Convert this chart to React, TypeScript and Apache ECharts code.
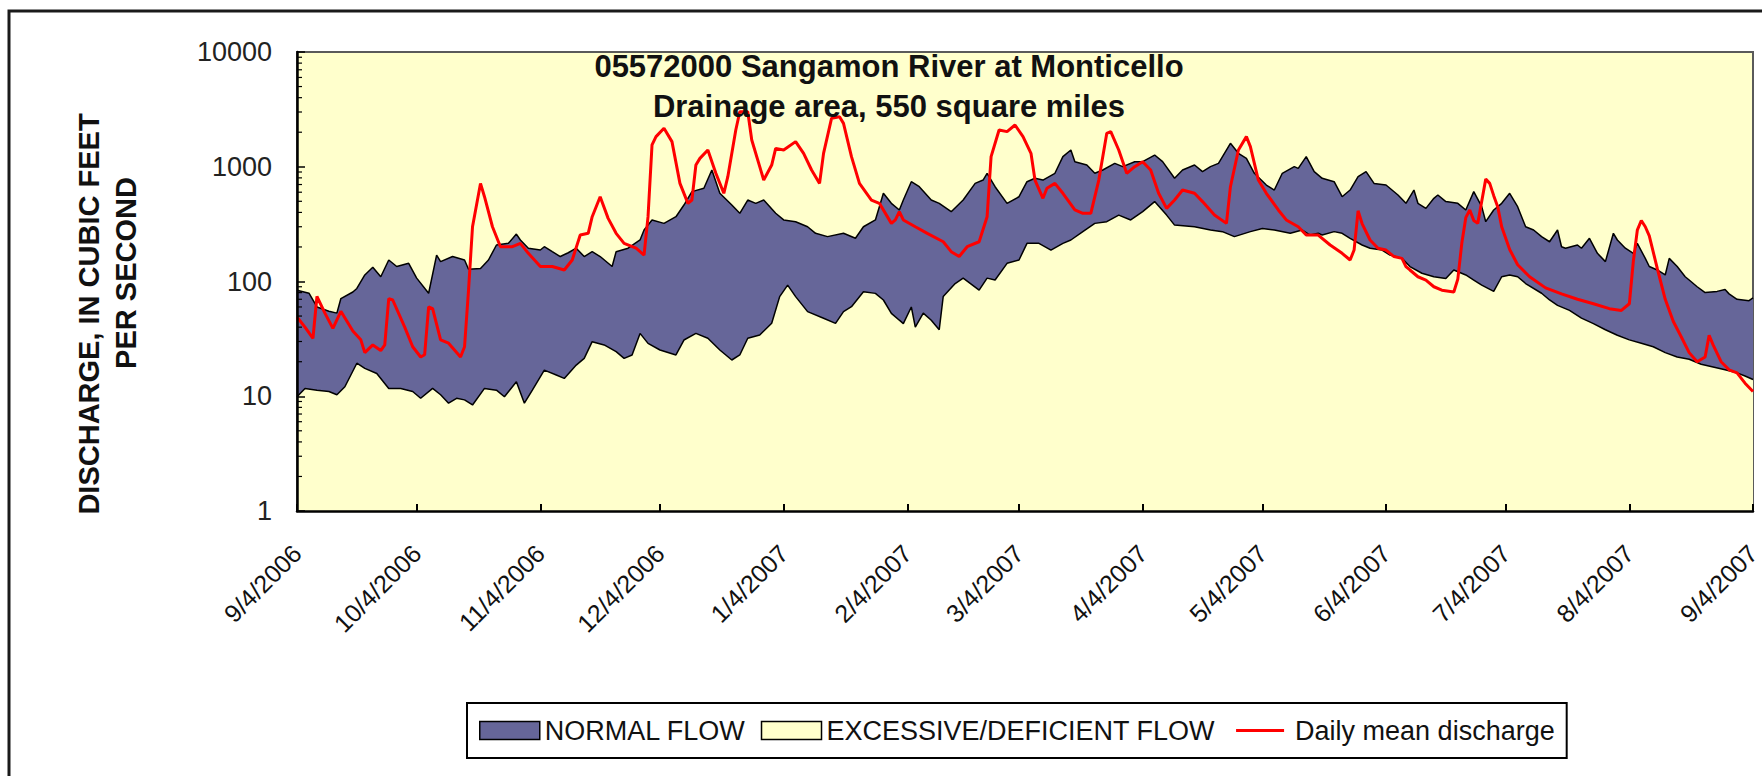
import React, { useEffect, useRef } from "react";
import * as echarts from "echarts";

// x positions are days since 9/4/2006; values are discharge in cubic feet per second
const tickDays = [0, 30, 61, 91, 122, 153, 181, 212, 242, 273, 303, 334, 365];
const tickLabels = [
  "9/4/2006", "10/4/2006", "11/4/2006", "12/4/2006", "1/4/2007", "2/4/2007", "3/4/2007",
  "4/4/2007", "5/4/2007", "6/4/2007", "7/4/2007", "8/4/2007", "9/4/2007",
];
const minorTickValues = [
  2, 3, 4, 5, 6, 7, 8, 9, 20, 30, 40, 50, 60, 70, 80, 90,
  200, 300, 400, 500, 600, 700, 800, 900, 2000, 3000, 4000, 5000, 6000, 7000, 8000, 9000,
];

const seriesNames = ["NORMAL FLOW", "EXCESSIVE/DEFICIENT FLOW", "Daily mean discharge"];

// upper edge of the normal-flow band
const normalUpper: [number, number][] = [
  [0, 84], [3, 79], [5, 60], [8, 55], [10, 53], [11, 71], [14, 81], [15, 87], [17, 114], [19, 133],
  [21, 110], [23, 154], [25, 135], [28, 144], [30, 107], [33, 79], [35, 170], [36, 149], [39, 165], [42, 154],
  [43, 128], [46, 130], [48, 154], [50, 208], [53, 215], [55, 259], [56, 230], [58, 195], [61, 188], [62, 201],
  [64, 182], [66, 165], [68, 178], [70, 195], [72, 165], [74, 182], [76, 165], [79, 135], [80, 182], [83, 195],
  [86, 230], [87, 281], [89, 344], [92, 321], [95, 367], [97, 464], [99, 607], [102, 649], [104, 937], [106, 587],
  [109, 464], [111, 393], [113, 513], [115, 480], [117, 513], [120, 393], [122, 344], [125, 332], [128, 300], [130, 263],
  [133, 246], [137, 263], [140, 238], [142, 300], [145, 344], [147, 587], [149, 480], [151, 420], [152, 513], [154, 741],
  [156, 670], [159, 513], [161, 480], [164, 406], [167, 513], [170, 716], [172, 766], [173, 877], [175, 670], [178, 480],
  [181, 548], [183, 741], [185, 793], [187, 766], [190, 877], [192, 1225], [194, 1400], [195, 1107], [198, 1035], [200, 877],
  [202, 937], [205, 1071], [207, 1002], [210, 1107], [212, 1107], [215, 1265], [217, 1107], [220, 793], [222, 937], [225, 1035],
  [227, 906], [229, 1002], [231, 1071], [234, 1600], [236, 1309], [238, 1183], [240, 877], [243, 693], [245, 627], [247, 877],
  [250, 1002], [251, 968], [253, 1225], [255, 906], [257, 793], [260, 741], [262, 548], [264, 627], [266, 819], [268, 906],
  [270, 716], [273, 693], [276, 567], [278, 480], [280, 627], [281, 480], [283, 434], [285, 531], [286, 567], [288, 497],
  [291, 480], [293, 420], [295, 607], [297, 449], [298, 332], [300, 420], [302, 480], [304, 587], [306, 449], [308, 300],
  [310, 281], [312, 246], [314, 222], [316, 281], [317, 201], [318, 195], [321, 208], [322, 195], [324, 238], [326, 176],
  [328, 149], [330, 263], [331, 230], [333, 195], [335, 176], [336, 215], [338, 159], [339, 135], [341, 126], [343, 114],
  [344, 159], [346, 135], [348, 110], [349, 103], [351, 90], [353, 80], [356, 82], [358, 85], [359, 78], [361, 70],
  [364, 68], [365, 72],
];

// lower edge of the normal-flow band
const normalLower: [number, number][] = [
  [0, 9.9], [2, 11.7], [5, 11.3], [8, 11], [10, 10.3], [12, 12.1], [15, 19.4], [17, 17.5], [20, 15.8], [23, 11.7],
  [26, 11.7], [29, 11], [31, 9.6], [34, 11.7], [36, 10.3], [38, 8.7], [40, 9.6], [42, 9.3], [44, 8.4], [47, 11.7],
  [50, 11.3], [52, 9.9], [55, 13.4], [57, 8.7], [59, 11.3], [62, 16.9], [65, 15.3], [67, 14.3], [70, 18.7], [72, 21.4],
  [74, 29.9], [77, 28], [80, 24.5], [82, 21.4], [84, 22.9], [86, 35.3], [88, 28.9], [91, 25.3], [95, 22.9], [97, 30.9],
  [100, 35.3], [103, 32], [106, 25.3], [109, 20.7], [111, 22.9], [113, 32], [116, 34.2], [119, 43.2], [121, 73.8], [123, 93],
  [125, 73.8], [128, 54.6], [132, 47.8], [135, 43.2], [137, 54.6], [139, 60.3], [142, 81.5], [145, 78.8], [147, 69], [149, 52.8],
  [151, 46], [152, 43], [154, 60], [155, 40], [157, 53], [159, 46], [161, 38], [162, 74], [165, 96], [167, 107],
  [171, 84], [173, 107], [175, 103], [178, 144], [181, 154], [183, 215], [186, 215], [189, 188], [192, 215], [194, 230],
  [197, 272], [200, 321], [203, 332], [206, 379], [209, 344], [212, 406], [215, 497], [218, 379], [220, 310], [225, 300],
  [229, 281], [232, 272], [235, 246], [239, 272], [242, 290], [245, 281], [249, 263], [252, 281], [254, 254], [256, 263],
  [257, 254], [260, 272], [262, 263], [264, 238], [267, 208], [269, 195], [272, 188], [274, 170], [277, 159], [279, 135],
  [282, 118], [285, 110], [288, 106], [290, 126], [293, 114], [295, 103], [297, 93], [300, 82], [302, 110], [304, 114],
  [306, 110], [308, 96], [312, 79], [314, 69], [316, 62], [319, 56], [322, 48], [325, 43], [328, 38], [331, 34],
  [334, 31], [337, 29], [340, 27], [343, 24], [346, 22], [349, 21], [352, 19], [355, 18], [358, 17], [361, 16],
  [363, 15], [365, 14],
];

// daily mean discharge
const dailyMean: [number, number][] = [
  [0, 49], [2, 40], [4, 32], [5, 74], [7, 53], [9, 39], [11, 55], [14, 37], [16, 31], [17, 24],
  [19, 28], [21, 25], [22, 28], [23, 71], [24, 69], [27, 40], [29, 27], [31, 22], [32, 23], [33, 60],
  [34, 58], [36, 31], [38, 29], [41, 22], [42, 27], [43, 84], [44, 300], [46, 716], [47, 548], [49, 300],
  [51, 201], [54, 201], [56, 215], [58, 176], [61, 135], [64, 135], [67, 126], [69, 154], [71, 254], [73, 263],
  [74, 367], [76, 548], [78, 355], [80, 263], [82, 215], [85, 195], [87, 170], [88, 367], [89, 1549], [90, 1830],
  [92, 2163], [94, 1655], [96, 716], [98, 480], [99, 513], [100, 1035], [101, 1183], [103, 1400], [105, 877], [107, 587],
  [108, 819], [110, 2089], [111, 3018], [113, 3018], [114, 1711], [116, 1002], [117, 766], [119, 1035], [120, 1446], [122, 1400],
  [125, 1655], [127, 1309], [129, 937], [131, 716], [132, 1309], [134, 2642], [136, 2730], [137, 2388], [139, 1225], [141, 716],
  [144, 513], [146, 480], [149, 321], [150, 344], [151, 406], [152, 344], [155, 300], [158, 263], [162, 222], [164, 182],
  [166, 165], [168, 201], [171, 222], [173, 367], [174, 1225], [176, 2089], [178, 2023], [180, 2312], [182, 1830], [184, 1309],
  [185, 766], [187, 531], [188, 649], [190, 716], [192, 587], [195, 420], [197, 393], [199, 393], [201, 766], [203, 1954],
  [204, 2023], [206, 1400], [208, 877], [210, 1002], [212, 1107], [214, 937], [216, 587], [218, 434], [220, 513], [222, 627],
  [225, 587], [227, 497], [230, 379], [233, 321], [234, 670], [236, 1400], [238, 1830], [239, 1496], [241, 766], [243, 587],
  [246, 420], [248, 344], [251, 300], [253, 254], [256, 254], [259, 208], [262, 176], [264, 154], [265, 188], [266, 413],
  [267, 320], [269, 230], [271, 195], [273, 188], [275, 165], [277, 159], [278, 135], [279, 126], [281, 110], [283, 103],
  [285, 90], [287, 84], [290, 81], [291, 105], [292, 215], [293, 360], [294, 420], [295, 340], [296, 321], [297, 500],
  [298, 780], [299, 716], [300, 560], [301, 449], [302, 300], [304, 190], [306, 140], [309, 110], [313, 88], [317, 78],
  [321, 70], [325, 64], [329, 58], [332, 56], [334, 64], [335, 150], [336, 280], [337, 340], [338, 300], [339, 250],
  [341, 130], [343, 70], [345, 45], [347, 33], [349, 24], [351, 20], [353, 22], [354, 34], [355, 28], [357, 20],
  [359, 17], [361, 16], [363, 13], [365, 11],
];

const FONT = "'Liberation Sans', Arial, Helvetica, sans-serif";
const BLUE = "#666699";
const YELLOW = "#FFFFCC";
const RED = "#FF0000";

export default function App() {
  const ref = useRef<HTMLDivElement>(null);

  useEffect(() => {
    if (!ref.current) return;
    const chart = echarts.init(ref.current, null, { renderer: "svg" });

    const option: any = {
      animation: false,
      backgroundColor: "#ffffff",
      textStyle: { fontFamily: FONT },
      grid: {
        left: 297,
        top: 52,
        right: 9,
        bottom: 265,
        show: true,
        backgroundColor: YELLOW,
        borderColor: "#5a5a5a",
        borderWidth: 2,
        outerBoundsMode: "none",
        containLabel: false,
      },
      xAxis: {
        type: "value",
        min: 0,
        max: 365,
        z: 10,
        axisLine: { show: true, onZero: false, lineStyle: { color: "#000", width: 2.5 } },
        axisTick: {
          show: true,
          inside: true,
          length: 7,
          customValues: tickDays,
          lineStyle: { color: "#000", width: 2 },
        },
        axisLabel: {
          customValues: tickDays,
          rotate: 45,
          margin: 38,
          fontSize: 25,
          fontFamily: FONT,
          color: "#111",
          formatter: (v: number) => {
            const i = tickDays.indexOf(Math.round(v));
            return i >= 0 ? tickLabels[i] : "";
          },
        },
        splitLine: { show: false },
      },
      yAxis: {
        type: "log",
        logBase: 10,
        min: 1,
        max: 10000,
        z: 10,
        axisLine: { show: true, onZero: false, lineStyle: { color: "#000", width: 2.5 } },
        axisTick: { show: true, inside: true, length: 8, lineStyle: { color: "#000", width: 1.5 } },
        axisLabel: {
          margin: 25,
          fontSize: 27,
          fontFamily: FONT,
          color: "#222",
          formatter: (v: number) => String(Math.round(v)),
        },
        splitLine: { show: false },
      },
      legend: {
        left: 467,
        top: 703,
        orient: "horizontal",
        padding: [14, 12, 14, 12],
        itemGap: 15,
        itemWidth: 60,
        itemHeight: 18,
        borderColor: "#000",
        borderWidth: 2,
        selectedMode: false,
        textStyle: { fontSize: 27, fontFamily: FONT, color: "#111" },
        data: [
          { name: seriesNames[0], icon: "rect", itemStyle: { color: BLUE, borderColor: "#000", borderWidth: 1.5 } },
          { name: seriesNames[1], icon: "rect", itemStyle: { color: YELLOW, borderColor: "#000", borderWidth: 1.5 } },
          {
            name: seriesNames[2],
            icon: "path://M0,0L0.001,0Z M60,18L59.999,18Z M6,7.5L54,7.5L54,10.5L6,10.5Z",
            itemStyle: { color: RED, borderWidth: 0 },
          },
        ],
      },
      series: [
        {
          name: seriesNames[0],
          type: "line",
          data: normalUpper,
          symbol: "none",
          z: 2,
          itemStyle: { color: BLUE },
          lineStyle: { color: "#000", width: 1.5 },
          areaStyle: { color: BLUE, opacity: 1, origin: "start" },
        },
        {
          name: seriesNames[1],
          type: "line",
          data: normalLower,
          symbol: "none",
          z: 3,
          itemStyle: { color: YELLOW },
          lineStyle: { color: "#000", width: 1.5 },
          areaStyle: { color: YELLOW, opacity: 1, origin: "start" },
        },
        {
          name: seriesNames[2],
          type: "line",
          data: dailyMean,
          symbol: "none",
          z: 4,
          itemStyle: { color: RED },
          lineStyle: { color: RED, width: 3 },
        },
        {
          type: "custom",
          name: "minor ticks",
          silent: true,
          clip: false,
          z: 12,
          data: minorTickValues.map((v) => [0, v]),
          renderItem: (_params: any, api: any) => {
            const p = api.coord([api.value(0), api.value(1)]);
            return {
              type: "line",
              shape: { x1: p[0], y1: p[1], x2: p[0] + 5, y2: p[1] },
              style: { stroke: "#000", lineWidth: 1.2 },
            };
          },
        },
      ],
      graphic: [
        {
          type: "rect",
          silent: true,
          z: 100,
          shape: { x: 9, y: 11, width: 1800, height: 900 },
          style: { fill: "none", stroke: "#1a1a1a", lineWidth: 3 },
        },
        {
          type: "text",
          z: 100,
          x: 889,
          y: 66,
          style: {
            text: "05572000 Sangamon River at Monticello",
            fontSize: 31,
            fontWeight: "bold",
            fontFamily: FONT,
            fill: "#111",
            align: "center",
            verticalAlign: "middle",
          },
        },
        {
          type: "text",
          z: 100,
          x: 889,
          y: 106,
          style: {
            text: "Drainage area, 550 square miles",
            fontSize: 31,
            fontWeight: "bold",
            fontFamily: FONT,
            fill: "#111",
            align: "center",
            verticalAlign: "middle",
          },
        },
        {
          type: "text",
          z: 100,
          x: 89,
          y: 314,
          rotation: Math.PI / 2,
          style: {
            text: "DISCHARGE, IN CUBIC FEET",
            fontSize: 29,
            fontWeight: "bold",
            fontFamily: FONT,
            fill: "#111",
            align: "center",
            verticalAlign: "middle",
          },
        },
        {
          type: "text",
          z: 100,
          x: 126,
          y: 273,
          rotation: Math.PI / 2,
          style: {
            text: "PER SECOND",
            fontSize: 29,
            fontWeight: "bold",
            fontFamily: FONT,
            fill: "#111",
            align: "center",
            verticalAlign: "middle",
          },
        },
      ],
    };

    chart.setOption(option);
    return () => chart.dispose();
  }, []);

  return (
    <div
      ref={ref}
      style={{ position: "fixed", left: 0, top: 0, width: "1762px", height: "776px" }}
    />
  );
}
